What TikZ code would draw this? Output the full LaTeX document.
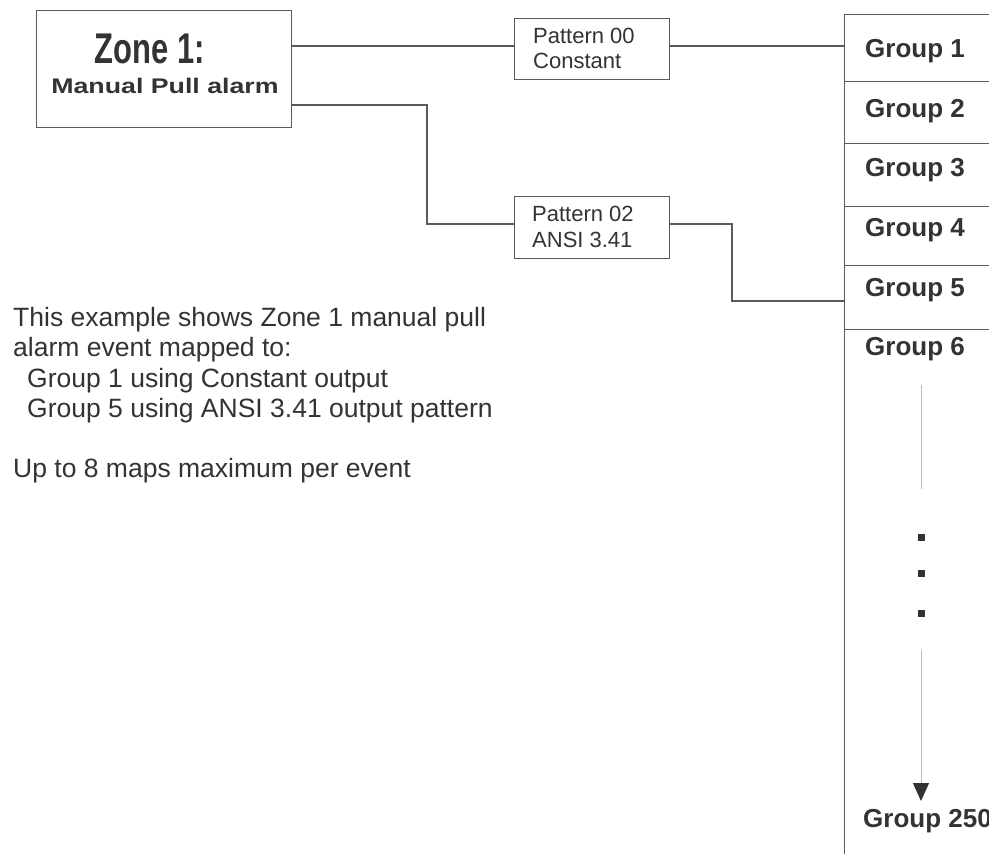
\documentclass[tikz,border=0pt]{standalone}
\usepackage{fontspec}
\setmainfont{Liberation Sans}
\usetikzlibrary{arrows.meta}
\definecolor{txt}{HTML}{333333}
\definecolor{ln}{HTML}{5A5A5A}
\definecolor{lite}{HTML}{BDBDBD}
\tikzset{
  box/.style={draw=ln, line width=1.2pt, fill=white, inner sep=0pt},
  conn/.style={draw=ln, line width=1.1pt},
  grp/.style={anchor=base west, inner sep=0pt, text=txt, font=\fontsize{26}{26}\selectfont\bfseries},
  pat/.style={anchor=base west, inner sep=0pt, text=txt, font=\fontsize{22}{22}\selectfont},
  body/.style={anchor=base west, inner sep=0pt, text=txt, font=\fontsize{26.5}{26.5}\selectfont},
  dotsq/.style={fill=txt, draw=none, minimum size=7pt, inner sep=0pt}
}
\begin{document}
\begin{tikzpicture}[x=1pt, y=-1pt]
\useasboundingbox (0,0) rectangle (989,854);
\clip (0,0) rectangle (989,854);
\fill[white] (0,0) rectangle (989,854);

% Zone box
\node[box, minimum width=255pt, minimum height=117pt, anchor=north west] (zone) at (36,10) {};
\node[anchor=base, inner sep=0pt, text=txt] (zt1) at (150,63) {\scalebox{0.72}[1]{\fontsize{43}{43}\selectfont\bfseries Zone 1:}};
\node[anchor=base, inner sep=0pt, text=txt] (zt2) at (165,93) {\scalebox{1.087}[0.86]{\fontsize{24.6}{24.6}\selectfont\bfseries Manual Pull alarm}};

% Pattern boxes
\node[box, minimum width=155pt, minimum height=61pt, anchor=north west] (p0) at (514,18) {};
\node[pat] (p0a) at (533,43) {Pattern 00};
\node[pat] (p0b) at (533,68) {Constant};
\node[box, minimum width=155pt, minimum height=62pt, anchor=north west] (p2) at (514,196) {};
\node[pat] (p2a) at (532,221) {Pattern 02};
\node[pat] (p2b) at (532,247) {ANSI 3.41};

% Group column rows
\node[box, minimum width=200pt, minimum height=67pt, anchor=north west] (g1) at (844,14) {};
\node[box, minimum width=200pt, minimum height=62pt, anchor=north west] (g2) at (844,81) {};
\node[box, minimum width=200pt, minimum height=63pt, anchor=north west] (g3) at (844,143) {};
\node[box, minimum width=200pt, minimum height=59pt, anchor=north west] (g4) at (844,206) {};
\node[box, minimum width=200pt, minimum height=64pt, anchor=north west] (g5) at (844,265) {};
\node[box, minimum width=200pt, minimum height=560pt, anchor=north west] (g6) at (844,329) {};

\node[grp] (l1) at (865,57) {Group 1};
\node[grp] (l2) at (865,117) {Group 2};
\node[grp] (l3) at (865,176) {Group 3};
\node[grp] (l4) at (865,236) {Group 4};
\node[grp] (l5) at (865,296) {Group 5};
\node[grp] (l6) at (865,355) {Group 6};
\node[grp] (l250) at (863,827) {Group 250};

% continuation marks
\coordinate (v1a) at (921,385);
\coordinate (v1b) at (921,489);
\coordinate (v2a) at (921,650);
\coordinate (v2b) at (921,801);
\draw[lite, line width=1pt] (v1a) -- (v1b);
\draw[lite, line width=1pt, -{Triangle[length=18pt, width=16pt, color=txt]}] (v2a) -- (v2b);
\node[dotsq] (d1) at (921,537) {};
\node[dotsq] (d2) at (921,573) {};
\node[dotsq] (d3) at (921,613) {};

% connectors
\coordinate (z1) at (291,46);
\coordinate (z2) at (291,105);
\coordinate (c0) at (514,46);
\coordinate (c1) at (669,46);
\coordinate (c2) at (844,46);
\coordinate (k1) at (514,224);
\coordinate (k2) at (669,224);
\coordinate (k3) at (844,301);
\draw[conn] (z1) -- (c0);
\draw[conn] (c1) -- (c2);
\draw[conn] (z2) -- (427,105) |- (k1);
\draw[conn] (k2) -- (732,224) |- (k3);

% body text
\node[body] (t1) at (13,326) {This example shows Zone 1 manual pull};
\node[body] (t2) at (13,356) {alarm event mapped to:};
\node[body] (t3) at (27,387) {Group 1 using Constant output};
\node[body] (t4) at (27,417) {Group 5 using ANSI 3.41 output pattern};
\node[body] (t5) at (13,477) {Up to 8 maps maximum per event};
\end{tikzpicture}
\end{document}
